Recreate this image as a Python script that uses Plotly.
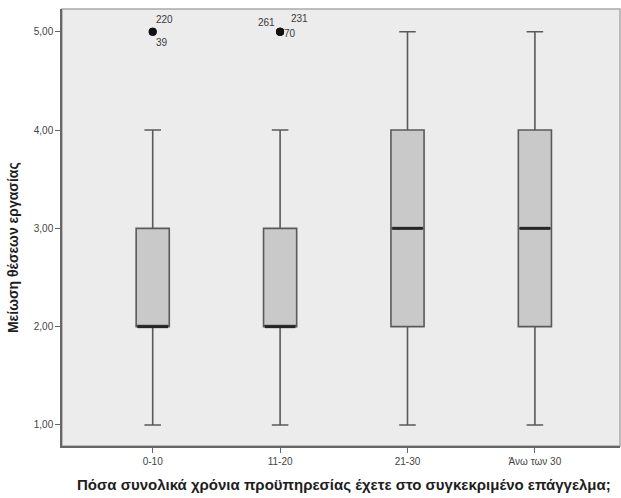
import plotly.graph_objects as go

# Years of experience groups and the five-number summaries of "job loss" ratings
categories = ["0-10", "11-20", "21-30", "Άνω των 30"]
lower_whisker = [1, 1, 1, 1]
q1_values = [2, 2, 2, 2]
median_values = [2, 2, 3, 3]
q3_values = [3, 3, 4, 4]
upper_whisker = [4, 4, 5, 5]

# Outlying cases: group index, value, case id
outlier_group = [0, 0, 1, 1, 1]
outlier_value = [5, 5, 5, 5, 5]
outlier_case = ["220", "39", "261", "231", "70"]

y_tick_values = [1, 2, 3, 4, 5]
y_tick_labels = ["1,00", "2,00", "3,00", "4,00", "5,00"]

x_title = "Πόσα συνολικά χρόνια προϋπηρεσίας έχετε στο συγκεκριμένο επάγγελμα;"
y_title = "Μείωση θέσεων εργασίας"

FONT = "Liberation Sans, Arial, sans-serif"
BOX_W = 0.26
positions = list(range(len(categories)))

fig = go.Figure()

fig.add_trace(go.Box(
    x=positions,
    q1=q1_values,
    median=median_values,
    q3=q3_values,
    lowerfence=lower_whisker,
    upperfence=upper_whisker,
    width=BOX_W,
    whiskerwidth=0.5,
    fillcolor="#c9c9c9",
    line=dict(color="#5a5a5a", width=1.6),
    boxpoints=False,
    hoverinfo="skip",
    showlegend=False,
))

# Heavier median bars drawn over each box
med_x, med_y = [], []
for pos, med in zip(positions, median_values):
    med_x += [pos - BOX_W / 2 + 0.01, pos + BOX_W / 2 - 0.01, None]
    med_y += [med, med, None]
fig.add_trace(go.Scatter(
    x=med_x, y=med_y, mode="lines",
    line=dict(color="#262626", width=3),
    hoverinfo="skip", showlegend=False,
))

# Outlier markers
fig.add_trace(go.Scatter(
    x=[positions[g] for g in outlier_group],
    y=outlier_value,
    mode="markers",
    marker=dict(color="#111111", size=8),
    hoverinfo="skip", showlegend=False,
))

# Case-id labels around each outlier marker (pixel offsets)
label_offsets = [(12, 12), (9, -11), (-14, 9), (19, 13), (10, -2)]
for g, v, case, (dx, dy) in zip(outlier_group, outlier_value, outlier_case, label_offsets):
    fig.add_annotation(
        x=positions[g], y=v, text=case, showarrow=False,
        xshift=dx, yshift=dy,
        font=dict(family=FONT, size=10, color="#3a3a3a"),
    )

# Axis titles
fig.add_annotation(
    x=0.5, y=0, xref="paper", yref="paper", text="<b>" + x_title + "</b>",
    showarrow=False, yanchor="middle", yshift=-38, xshift=3,
    font=dict(family=FONT, size=15, color="#1e1e1e"),
)
fig.add_annotation(
    x=0, y=0.453, xref="paper", yref="paper", text="<b>" + y_title + "</b>",
    showarrow=False, textangle=-90, xanchor="center", yanchor="middle", xshift=-49,
    font=dict(family=FONT, size=14, color="#1e1e1e"),
)

# Light frame around the plotting area
fig.add_shape(
    type="rect", xref="paper", yref="paper", x0=0, y0=0, x1=1, y1=1,
    line=dict(color="#a9a9a9", width=1.5), layer="below",
)

fig.update_xaxes(
    range=[-0.712, 3.668],
    tickmode="array", tickvals=positions, ticktext=categories,
    showgrid=False, zeroline=False,
    showline=True, linecolor="#666666", linewidth=1.5,
    ticks="outside", ticklen=5, tickcolor="#666666", tickwidth=1.2,
    tickfont=dict(family=FONT, size=10, color="#444444"),
)
fig.update_yaxes(
    range=[0.786, 5.231],
    tickmode="array", tickvals=y_tick_values, ticktext=y_tick_labels,
    showgrid=False, zeroline=False,
    showline=True, linecolor="#666666", linewidth=1.5,
    ticks="outside", ticklen=5, tickcolor="#666666", tickwidth=1.2,
    tickfont=dict(family=FONT, size=10, color="#444444"),
)

fig.update_layout(
    width=621, height=498,
    margin=dict(l=62, r=1, t=9, b=52),
    paper_bgcolor="#ffffff",
    plot_bgcolor="#ececec",
    showlegend=False,
)

fig.write_html("out.html")
